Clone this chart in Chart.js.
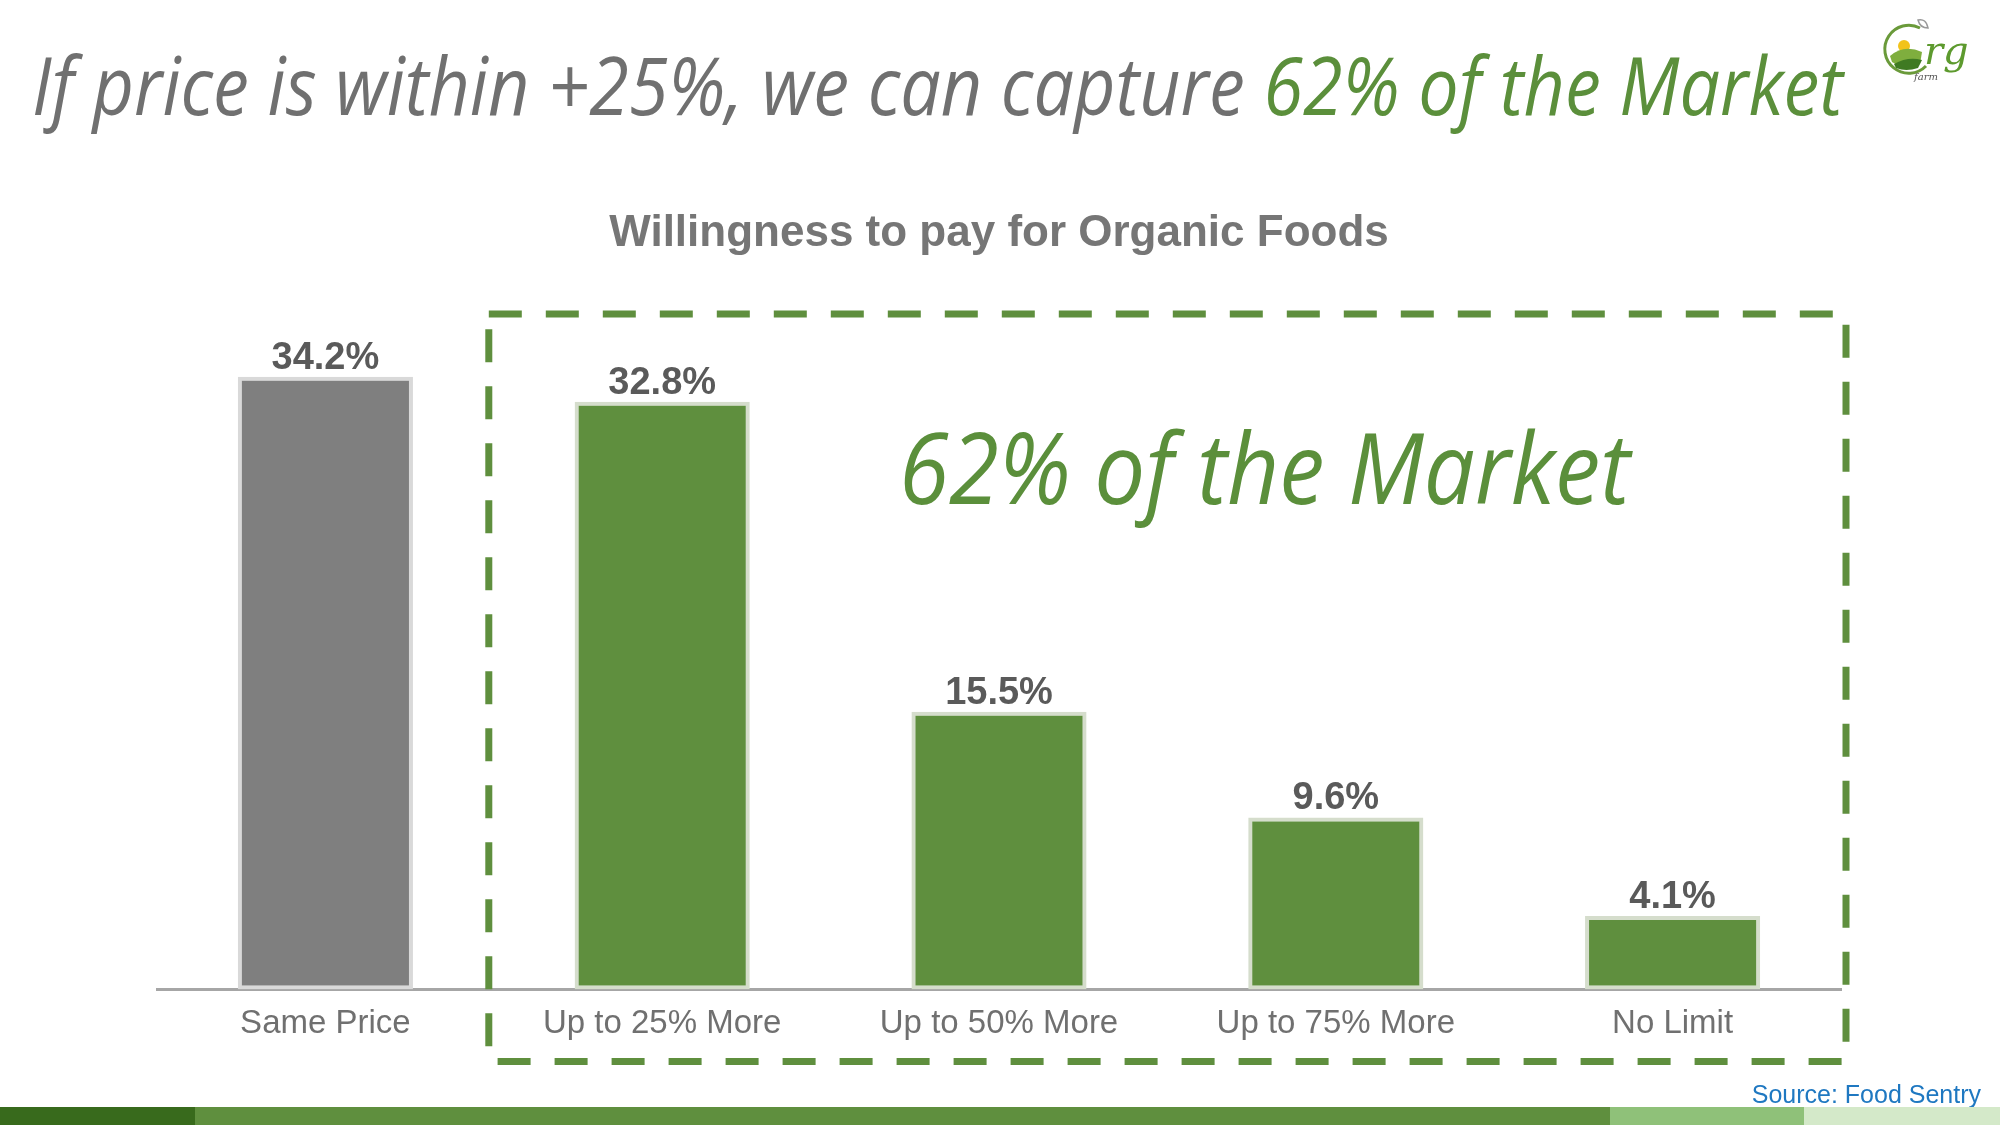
<!DOCTYPE html>
<html><head><meta charset="utf-8">
<script src="https://cdn.jsdelivr.net/npm/chart.js@4.4.0/dist/chart.umd.min.js"></script>
<style>
html,body{margin:0;padding:0;background:#fff;width:2000px;height:1125px;overflow:hidden;}
#wrap{position:relative;width:2000px;height:1125px;}
#c{position:absolute;left:0;top:0;}
.fit{position:absolute;white-space:nowrap;transform-origin:0 0;font-family:'Open Sans',sans-serif;font-style:italic;font-weight:500;line-height:1;}
#headline{left:32px;top:43px;font-size:81px;color:#707070;}
#headline .g{color:#5b8f3b;}
#market{left:899px;top:417px;font-size:98px;color:#5b8f3b;}
#source{position:absolute;right:19px;top:1082px;font-family:'Liberation Sans',Arial,sans-serif;font-size:25px;line-height:1;color:#1f78c1;}
.band{position:absolute;top:1107px;height:18px;}
#logo{position:absolute;left:1880px;top:14px;}
</style>
</head><body>
<div id="wrap">
<canvas id="c" width="2000" height="1125"></canvas>
<div id="headline" class="fit" data-w="1811">If price is within +25%, we can capture <span class="g">62% of the Market</span></div>
<div id="market" class="fit" data-w="731">62% of the Market</div>
<div id="source">Source: Food Sentry</div>
<div class="band" style="left:0;width:195px;background:#386a1c;"></div>
<div class="band" style="left:195px;width:1415px;background:#5f8f3e;"></div>
<div class="band" style="left:1610px;width:194px;background:#8fc179;"></div>
<div class="band" style="left:1804px;width:196px;background:#d4e9c9;"></div>
<svg id="logo" width="110" height="80" viewBox="0 0 110 80">
  <path d="M40 14 A24 24 0 1 0 46 52" fill="none" stroke="#6a9a3a" stroke-width="3"/>
  <circle cx="24" cy="32" r="6" fill="#f2c31b"/>
  <path d="M10 42 Q24 30 42 38 L40 50 Q24 56 12 48 Z" fill="#7fae3e"/>
  <path d="M14 50 Q28 42 42 46 L38 54 Q26 58 16 54 Z" fill="#3f7a22"/>
  <path d="M38 6 q8 -2 10 8 q-8 0 -10 -8z" fill="none" stroke="#999" stroke-width="1.5"/>
  <text x="44" y="50" font-family="'DejaVu Serif',serif" font-style="italic" font-size="40" fill="#5d9a2e">rg</text>
  <text x="34" y="66" font-family="'DejaVu Serif',serif" font-style="italic" font-size="10" fill="#555">farm</text>
</svg>
</div>
<script>
const categories = ['Same Price', 'Up to 25% More', 'Up to 50% More', 'Up to 75% More', 'No Limit'];
const values = [34.2, 32.8, 15.5, 9.6, 4.1];
const valueLabels = ['34.2%', '32.8%', '15.5%', '9.6%', '4.1%'];
const chartTitle = 'Willingness to pay for Organic Foods';

const GRAY = '#7f7f7f', GREEN = '#5f8f3e';

const valueLabelPlugin = {
  id: 'valueLabels',
  afterDatasetsDraw(chart) {
    const ctx = chart.ctx;
    const meta = chart.getDatasetMeta(0);
    ctx.save();
    ctx.fillStyle = '#5a5a5a';
    ctx.font = 'bold 38px "Liberation Sans", Arial, sans-serif';
    ctx.textAlign = 'center';
    ctx.textBaseline = 'alphabetic';
    meta.data.forEach((bar, i) => {
      ctx.fillText(valueLabels[i], bar.x, bar.y - 8);
    });
    ctx.restore();
  }
};

const dashedBoxPlugin = {
  id: 'dashedBox',
  afterDraw(chart) {
    const ctx = chart.ctx;
    const xs = chart.scales.x;
    const ys = chart.scales.y;
    const left = (xs.getPixelForValue(0) + xs.getPixelForValue(1)) / 2 - 5;
    const right = chart.chartArea.right + 5;
    const top = ys.getPixelForValue(37.7);
    const bottom = chart.chartArea.bottom + 72;
    ctx.save();
    ctx.strokeStyle = '#5f8f3e';
    ctx.lineWidth = 7;
    ctx.setLineDash([33, 24]);
    ctx.strokeRect(left, top, right - left, bottom - top);
    ctx.restore();
  }
};

new Chart(document.getElementById('c'), {
  type: 'bar',
  data: {
    labels: categories,
    datasets: [{
      data: values,
      backgroundColor: c => c.dataIndex === 0 ? GRAY : GREEN,
      borderColor: c => c.dataIndex === 0 ? '#d9d9d9' : '#d5ddcc',
      borderWidth: 4,
      borderSkipped: false,
      barPercentage: 0.52,
      categoryPercentage: 1
    }]
  },
  options: {
    responsive: false,
    devicePixelRatio: 1,
    animation: false,
    layout: { padding: { left: 157, right: 159, top: 0, bottom: 66 } },
    plugins: {
      legend: { display: false },
      tooltip: { enabled: false },
      title: {
        display: true,
        text: chartTitle,
        color: '#767676',
        font: { family: '"Liberation Sans", Arial, sans-serif', size: 44, weight: 'bold' },
        padding: { top: 207, bottom: 13 }
      }
    },
    scales: {
      x: {
        grid: { display: false, drawTicks: false },
        border: { display: true, color: '#a6a6a6', width: 3 },
        ticks: { color: '#707070', font: { family: '"Liberation Sans", Arial, sans-serif', size: 33 }, padding: 15 }
      },
      y: { display: false, min: 0, max: 40 }
    }
  },
  plugins: [valueLabelPlugin, dashedBoxPlugin]
});

document.querySelectorAll('.fit').forEach(el => {
  const target = parseFloat(el.dataset.w);
  const w = el.getBoundingClientRect().width;
  el.style.transform = 'scaleX(' + (target / w) + ')';
});
</script>
</body></html>
